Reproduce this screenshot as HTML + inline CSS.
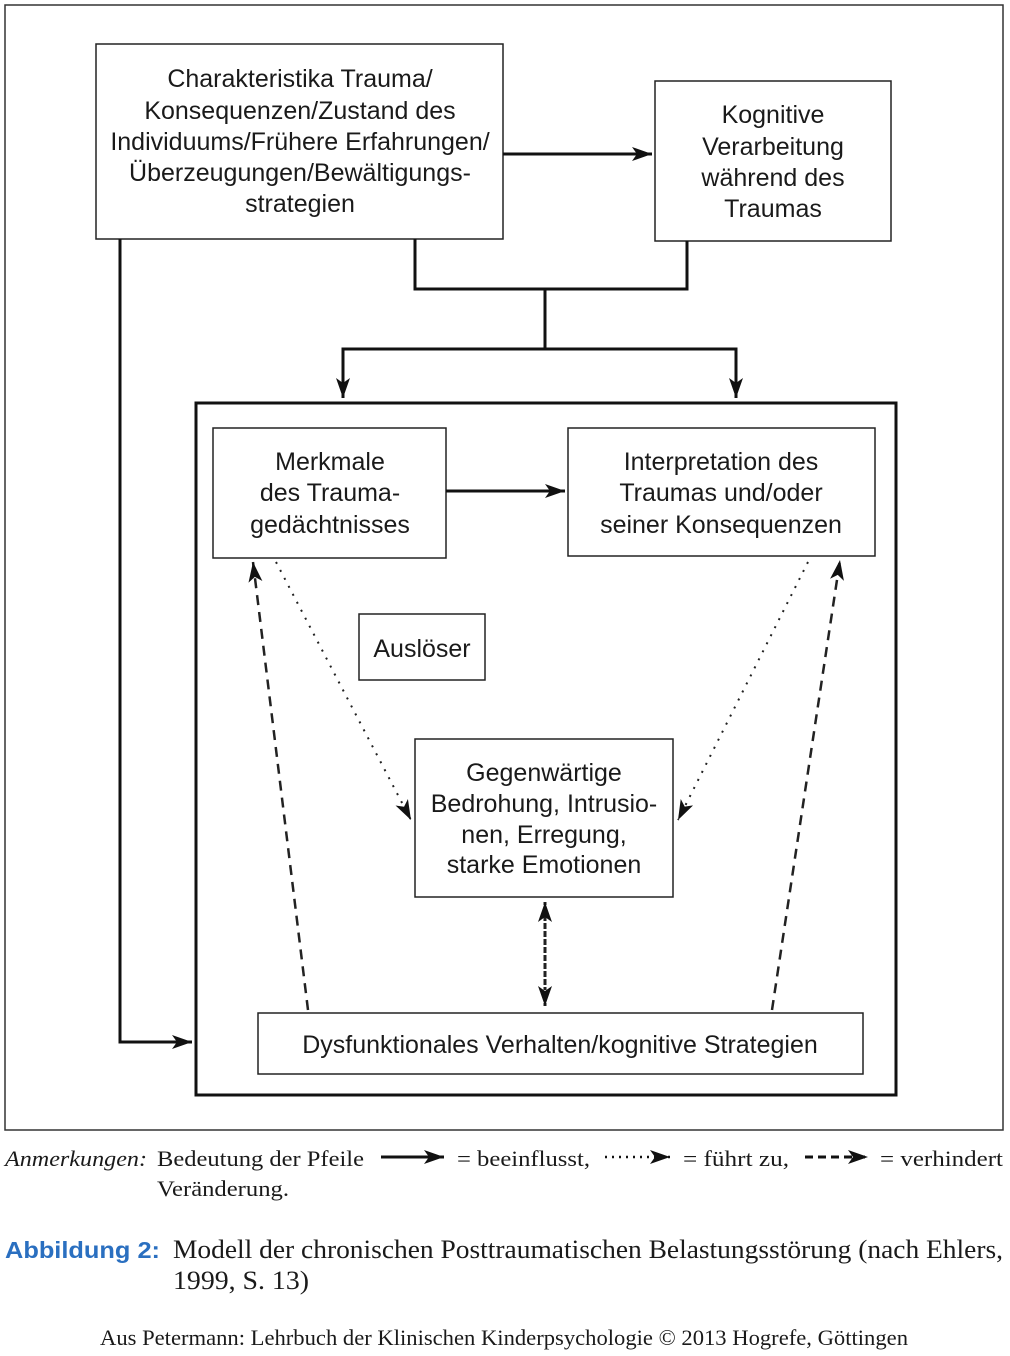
<!DOCTYPE html>
<html><head><meta charset="utf-8"><style>
html,body{margin:0;padding:0;background:#fff;}
svg{display:block;}
.b{font-family:"Liberation Sans",sans-serif;font-size:25px;fill:#1a1a1a;}
.s{font-family:"Liberation Serif",serif;fill:#1a1a1a;}
</style></head><body>
<svg width="1010" height="1356" viewBox="0 0 1010 1356" xmlns="http://www.w3.org/2000/svg">
<defs>
<marker id="h" viewBox="0 0 20 14" markerWidth="20" markerHeight="14" refX="20" refY="7" orient="auto" markerUnits="userSpaceOnUse"><path d="M0,0 L20,7 L0,14 L5,7 Z" fill="#111"/></marker>
</defs>
<rect x="5" y="5" width="998" height="1125" fill="none" stroke="#333" stroke-width="1.5"/>
<g fill="none" stroke="#222" stroke-width="1.5">
<rect x="96" y="44" width="407" height="195"/>
<rect x="655" y="81" width="236" height="160"/>
<rect x="213" y="428" width="233" height="130"/>
<rect x="568" y="428" width="307" height="128"/>
<rect x="359" y="614" width="126" height="66"/>
<rect x="415" y="739" width="258" height="158"/>
<rect x="258" y="1013" width="605" height="61"/>
</g>
<rect x="196" y="403" width="700" height="692" fill="none" stroke="#111" stroke-width="3"/>
<g fill="none" stroke="#111" stroke-width="3">
<path d="M503,154 H652" marker-end="url(#h)"/>
<path d="M415,239 V289 H687 V241"/>
<path d="M545,289 V349"/>
<path d="M343,398 V349 H736 V398"/>
<path d="M343,349 V398" marker-end="url(#h)"/>
<path d="M736,349 V398" marker-end="url(#h)"/>
<path d="M120,239 V1042 H192" marker-end="url(#h)"/>
<path d="M446,491 H565" marker-end="url(#h)"/>
</g>
<g fill="none" stroke="#222" stroke-width="2.5">
<path d="M308,1010 L253,562" stroke-dasharray="10,7" marker-end="url(#h)"/>
<path d="M772,1010 L840,560" stroke-dasharray="10,7" marker-end="url(#h)"/>
<path d="M276,562 L411,820" stroke-dasharray="2,7" stroke-width="2" marker-end="url(#h)"/>
<path d="M808,562 L678,820" stroke-dasharray="2,7" stroke-width="2" marker-end="url(#h)"/>
<path d="M545,915 V1006" stroke-dasharray="3,5" stroke-width="3" marker-end="url(#h)"/>
<path d="M545,985 V902" stroke-dasharray="3,5" stroke-width="3" marker-end="url(#h)"/>
</g>
<g class="b" text-anchor="middle">
<text x="300" y="87">Charakteristika Trauma/</text>
<text x="300" y="119">Konsequenzen/Zustand des</text>
<text x="300" y="150">Individuums/Frühere Erfahrungen/</text>
<text x="300" y="181">Überzeugungen/Bewältigungs-</text>
<text x="300" y="212">strategien</text>
<text x="773" y="123">Kognitive</text>
<text x="773" y="155">Verarbeitung</text>
<text x="773" y="186">während des</text>
<text x="773" y="217">Traumas</text>
<text x="330" y="470">Merkmale</text>
<text x="330" y="501">des Trauma-</text>
<text x="330" y="533">gedächtnisses</text>
<text x="721" y="470">Interpretation des</text>
<text x="721" y="501">Traumas und/oder</text>
<text x="721" y="533">seiner Konsequenzen</text>
<text x="422" y="657">Auslöser</text>
<text x="544" y="781">Gegenwärtige</text>
<text x="544" y="812">Bedrohung, Intrusio-</text>
<text x="544" y="843">nen, Erregung,</text>
<text x="544" y="873">starke Emotionen</text>
<text x="560" y="1053">Dysfunktionales Verhalten/kognitive Strategien</text>
</g>
<g class="s" font-size="22">
<text x="5" y="1166" font-style="italic" textLength="142" lengthAdjust="spacingAndGlyphs">Anmerkungen:</text>
<text x="157" y="1166" textLength="207" lengthAdjust="spacingAndGlyphs">Bedeutung der Pfeile</text>
<text x="457" y="1166" textLength="133" lengthAdjust="spacingAndGlyphs">= beeinflusst,</text>
<text x="683" y="1166" textLength="106" lengthAdjust="spacingAndGlyphs">= führt zu,</text>
<text x="880" y="1166" textLength="123" lengthAdjust="spacingAndGlyphs">= verhindert</text>
<text x="157" y="1196" textLength="132" lengthAdjust="spacingAndGlyphs">Veränderung.</text>
</g>
<g fill="none" stroke="#111" stroke-width="3">
<path d="M381,1157 H444" marker-end="url(#h)"/>
<path d="M605,1157 H670" stroke-dasharray="2,5" stroke-width="2.5" marker-end="url(#h)"/>
<path d="M805,1157 H868" stroke-dasharray="8,5" marker-end="url(#h)"/>
</g>
<text x="5" y="1258" font-family="Liberation Sans,sans-serif" font-size="23" font-weight="bold" fill="#2a6fc0" textLength="155" lengthAdjust="spacingAndGlyphs">Abbildung 2:</text>
<g class="s" font-size="26">
<text x="173" y="1258" textLength="830" lengthAdjust="spacingAndGlyphs">Modell der chronischen Posttraumatischen Belastungsstörung (nach Ehlers,</text>
<text x="173" y="1289" textLength="136" lengthAdjust="spacingAndGlyphs">1999, S. 13)</text>
</g>
<text x="100" y="1345" class="s" font-size="22" textLength="808" lengthAdjust="spacingAndGlyphs">Aus Petermann: Lehrbuch der Klinischen Kinderpsychologie © 2013 Hogrefe, Göttingen</text>
</svg>
</body></html>
